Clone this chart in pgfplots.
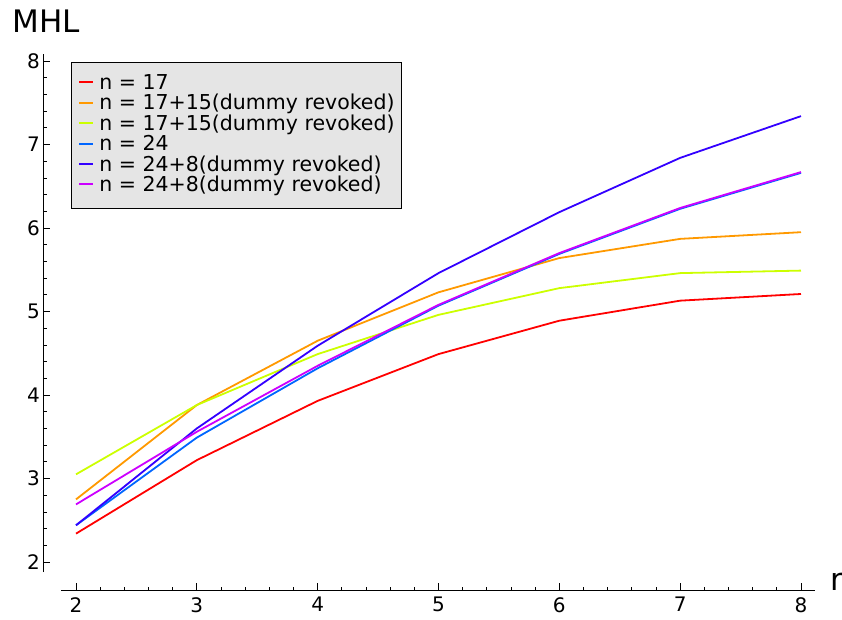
\documentclass[border=0pt]{standalone}
\usepackage{fontspec}
\setmainfont{DejaVu Sans}
\usepackage{pgfplots}
\pgfplotsset{compat=1.18}
\definecolor{cA}{HTML}{FF0000}
\definecolor{cB}{HTML}{FF9900}
\definecolor{cC}{HTML}{CCFF00}
\definecolor{cD}{HTML}{0066FF}
\definecolor{cE}{HTML}{3300FF}
\definecolor{cF}{HTML}{CC00FF}
\definecolor{legbg}{HTML}{E5E5E5}
\begin{document}
\begin{tikzpicture}[x=1pt,y=1pt]
\useasboundingbox (0,0) rectangle (842,619);
\begin{axis}[
  at={(43pt,29pt)}, anchor=south west,
  scale only axis, width=772pt, height=536pt,
  xmin=1.727, xmax=8.116, ymin=1.665, ymax=8.084,
  axis lines=left,
  axis line style={-, black, line width=0.9pt},
  x axis line style={shorten <=18pt},
  y axis line style={shorten <=18pt},
  xtick={2,3,4,5,6,7,8}, ytick={2,3,4,5,6,7,8},
  minor xtick={2.2,2.4,2.6,2.8,3.2,3.4,3.6,3.8,4.2,4.4,4.6,4.8,5.2,5.4,5.6,5.8,6.2,6.4,6.6,6.8,7.2,7.4,7.6,7.8},
  minor ytick={2.2,2.4,2.6,2.8,3.2,3.4,3.6,3.8,4.2,4.4,4.6,4.8,5.2,5.4,5.6,5.8,6.2,6.4,6.6,6.8,7.2,7.4,7.6,7.8},
  tick align=inside,
  major tick length=7pt, minor tick length=3.5pt,
  tick style={black, line width=0.8pt},
  /pgf/number format/assume math mode=true,
  ticklabel style={font=\fontsize{20}{24}\selectfont},
  xticklabel style={anchor=north, inner sep=0pt, yshift=-7pt},
  yticklabel style={anchor=east, inner sep=0pt, xshift=-3pt},
  xlabel={r}, ylabel={MHL},
  every axis x label/.style={at={(axis description cs:1.015,0)}, anchor=base west, font=\fontsize{31}{36}\selectfont},
  every axis y label/.style={at={(axis description cs:-0.044,1.041)}, anchor=base west, font=\fontsize{31}{36}\selectfont},
  legend style={at={(axis description cs:0.03627,0.98507)}, anchor=north west,
    draw=black, line width=0.9pt, fill=legbg, inner xsep=7pt, inner ysep=12pt,
    font=\fontsize{20.5}{24}\selectfont,
    nodes={inner sep=0pt, text height=15pt, text depth=5.4pt, anchor=base west},
    every even column/.append style={text width=308pt},
    row sep=0pt, column sep=5pt},
  legend cell align=left,
  legend image code/.code={\draw[#1, line width=2pt] (0pt,7pt) -- (14pt,7pt);},
  every axis plot/.append style={line width=1.8pt},
]
\addplot[cA] coordinates {(2,2.34) (3,3.22) (4,3.93) (5,4.49) (6,4.89) (7,5.13) (8,5.21)};
\addlegendentry{n = 17}
\addplot[cB] coordinates {(2,2.75) (3,3.88) (4,4.65) (5,5.23) (6,5.64) (7,5.87) (8,5.95)};
\addlegendentry{n = 17+15(dummy revoked)}
\addplot[cC] coordinates {(2,3.05) (3,3.88) (4,4.49) (5,4.96) (6,5.28) (7,5.46) (8,5.49)};
\addlegendentry{n = 17+15(dummy revoked)}
\addplot[cD] coordinates {(2,2.44) (3,3.49) (4,4.32) (5,5.07) (6,5.69) (7,6.23) (8,6.66)};
\addlegendentry{n = 24}
\addplot[cE] coordinates {(2,2.44) (3,3.60) (4,4.59) (5,5.46) (6,6.19) (7,6.84) (8,7.34)};
\addlegendentry{n = 24+8(dummy revoked)}
\addplot[cF] coordinates {(2,2.69) (3,3.56) (4,4.35) (5,5.08) (6,5.70) (7,6.24) (8,6.67)};
\addlegendentry{n = 24+8(dummy revoked)}
\end{axis}
\end{tikzpicture}
\end{document}
